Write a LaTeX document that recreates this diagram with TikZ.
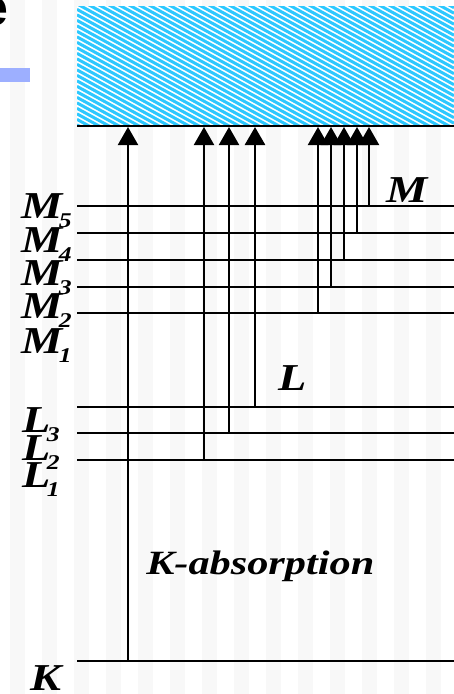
\documentclass[tikz,border=0pt]{standalone}
\usetikzlibrary{arrows.meta}
\usepackage{fontspec}
\newfontfamily\efont{Liberation Sans}
\newfontfamily\labfont{Liberation Serif}
\definecolor{hatchc}{HTML}{2CC8FF}
\definecolor{barblue}{HTML}{9DAFFF}
\definecolor{bgstripe}{HTML}{F8F8F8}
\newcommand\lsub[1]{\kern-3pt\raisebox{-9pt}{\fontsize{21}{21}\selectfont#1}}
\begin{document}
\begin{tikzpicture}[x=1pt,y=-1pt,
  lvl/.style={line width=1.8pt},
  arr/.style={line width=2pt,-{Triangle[width=20pt,length=18pt]}},
  arrthick/.style={arr,line width=2.8pt},
  lab/.style={inner sep=0pt,anchor=base west,xscale=1.22,font=\labfont\bfseries\itshape\fontsize{38}{38}\selectfont}]
\useasboundingbox (0,0) rectangle (454,694);
\fill[white] (0,0) rectangle (454,694);
\foreach \x in {10,42,...,442} \fill[bgstripe] (\x,0) rectangle ++(15,694);
\fill[barblue] (0,68) rectangle (30,82);
\begin{scope}
  \clip (0,0) rectangle (12,40);
  \node[anchor=north east,inner sep=0pt,font=\efont\bfseries\fontsize{52}{52}\selectfont] (title) at (9,-3) {e};
\end{scope}
% continuum
\begin{scope}
  \clip (77,6) rectangle (454,126);
  \fill[white] (77,6) rectangle (454,126);
  \foreach \c in {-275,-269.5,...,90} \draw[hatchc,line width=3pt] (77,{0.55*77+\c}) -- (454,{0.55*454+\c});
\end{scope}
\coordinate (topL) at (77,126);
\coordinate (topR) at (454,126);
\draw[line width=2pt] (topL) -- (topR);
% levels
\foreach \n/\y in {K/661,L1/460,L2/433,L3/407,M1/313,M2/287,M3/260,M4/233,M5/206}{
  \coordinate (\n) at (77,\y);
  \coordinate (\n r) at (454,\y);
  \draw[lvl] (\n) -- (\n r);
}
% transitions
\foreach \n/\x in {K/128,L1/204,L2/229,L3/255,M1/318,M2/331,M3/344,M4/357,M5/369}{
  \coordinate (c\n) at (\x,127);
}
\foreach \n in {K,L1,L2,M1,M2,M3,M4,M5} \draw[arr] (c\n |- \n) -- (c\n);
\draw[arrthick] (cL3 |- L3) -- (cL3);
% labels
\node[lab] (lM5) at (21,218) {M\lsub{5}};
\node[lab] (lM4) at (21,252) {M\lsub{4}};
\node[lab] (lM3) at (21,285) {M\lsub{3}};
\node[lab] (lM2) at (21,318) {M\lsub{2}};
\node[lab] (lM1) at (21,353) {M\lsub{1}};
\node[lab] (lL3) at (22,432) {L\lsub{3}};
\node[lab] (lL2) at (22,460) {L\lsub{2}};
\node[lab] (lL1) at (22,487) {L\lsub{1}};
\node[lab] (lK) at (30,690) {K};
\node[lab] (shM) at (386,202) {M};
\node[lab] (shL) at (278,390) {L};
\node[lab,xscale=1.02,font=\labfont\bfseries\itshape\fontsize{34}{34}\selectfont] (kabs) at (146,574) {K-absorption};
\end{tikzpicture}
\end{document}
